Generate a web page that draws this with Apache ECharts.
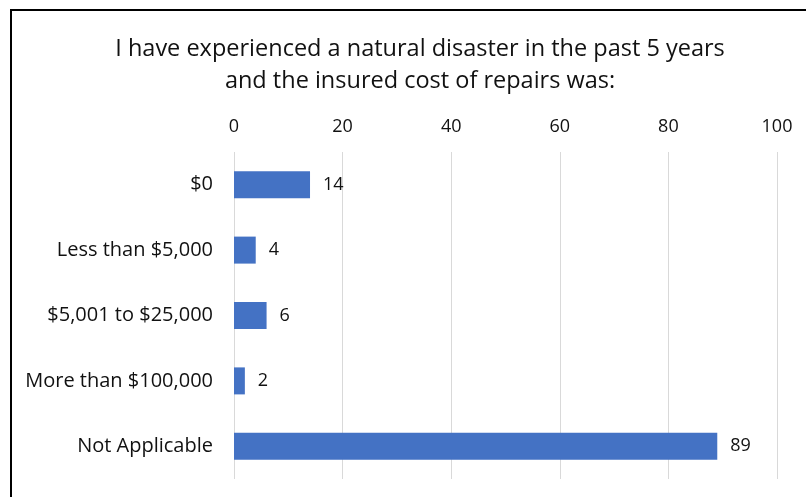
<!DOCTYPE html>
<html>
<head>
<meta charset="utf-8">
<script src="https://cdn.jsdelivr.net/npm/echarts@6/dist/echarts.min.js"></script>
<style>
  html, body { margin: 0; padding: 0; background: #fff; }
  #chart { width: 806px; height: 497px; }
</style>
</head>
<body>
<div id="chart"></div>
<script>
// categories top to bottom
const categories = ['$0', 'Less than $5,000', '$5,001 to $25,000', 'More than $100,000', 'Not Applicable']
const counts = [14, 4, 6, 2, 89]
const titleLines = ['I have experienced a natural disaster in the past 5 years', 'and the insured cost of repairs was:']

const chart = echarts.init(document.getElementById('chart'))
const font = '"Open Sans", Lato, sans-serif'

chart.setOption({
  animation: false,
  textStyle: { fontFamily: font },
  title: {
    text: titleLines.join('\n'),
    left: 415,
    top: 28,
    textAlign: 'center',
    textStyle: { fontFamily: font, fontSize: 23.5, fontWeight: 'normal', color: '#111', lineHeight: 32 }
  },
  graphic: [{
    type: 'rect',
    shape: { x: 11, y: 10, width: 900, height: 600 },
    style: { fill: 'none', stroke: '#000', lineWidth: 2 }
  }],
  grid: { left: 234, right: 29, top: 152, bottom: 18 },
  xAxis: {
    type: 'value',
    position: 'top',
    min: 0,
    max: 100,
    interval: 20,
    axisLine: { show: false },
    axisTick: { show: false },
    axisLabel: { color: '#111', fontSize: 18, margin: 16 },
    splitLine: { lineStyle: { color: '#d9d9d9', width: 1 } }
  },
  yAxis: {
    type: 'category',
    data: categories,
    inverse: true,
    axisLine: { show: false },
    axisTick: { show: false },
    axisLabel: { color: '#111', fontSize: 20, margin: 21 }
  },
  series: [{
    type: 'bar',
    data: counts,
    barWidth: 27,
    itemStyle: { color: '#4472C4' },
    label: { show: true, position: 'right', distance: 13, color: '#111', fontSize: 18 }
  }]
})
</script>
</body>
</html>
